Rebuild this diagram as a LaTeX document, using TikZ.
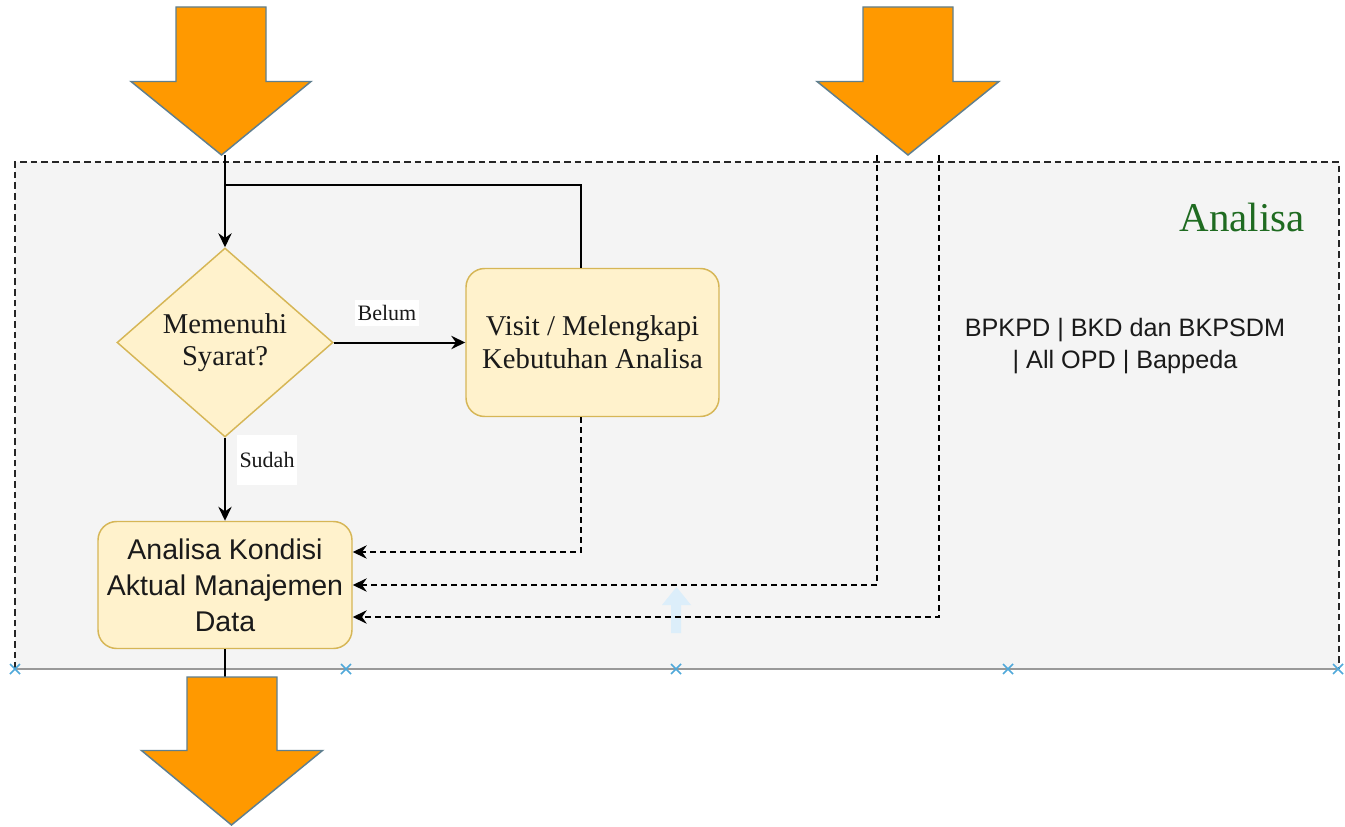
\documentclass[tikz,border=0pt]{standalone}
\usepackage{fontspec}
\setmainfont{Liberation Serif}
\newfontfamily\arialf{Liberation Sans}
\usetikzlibrary{arrows.meta,shapes.geometric,calc}
\definecolor{boxfill}{HTML}{FFF2CC}
\definecolor{boxdraw}{HTML}{D6B656}
\definecolor{orangeA}{HTML}{FF9900}
\definecolor{arrowedge}{HTML}{5F7F8F}
\definecolor{panel}{HTML}{F4F4F4}
\definecolor{titlegreen}{HTML}{1F6B21}
\definecolor{marker}{HTML}{4FA8DA}
\definecolor{ghost}{HTML}{DCEEFA}
\definecolor{ink}{HTML}{1A1A1A}
\begin{document}
\begin{tikzpicture}[x=0.75pt,y=-0.75pt,
  border/.style={draw=black!85,line width=1.2pt,dash pattern=on 5pt off 3pt},
  conn/.style={draw=black,line width=1.5pt},
  dconn/.style={draw=black,line width=1.35pt,dash pattern=on 4.5pt off 3pt},
  tip/.style={-{Stealth[length=10.5pt,width=10pt,inset=3.5pt]}},
  proc/.style={rectangle,rounded corners=14pt,draw=boxdraw,fill=boxfill,line width=1.1pt,align=center,inner sep=2pt,text=ink},
  diam/.style={diamond,draw=boxdraw,fill=boxfill,line width=1.1pt,inner sep=0pt,minimum width=162pt,minimum height=141.75pt},
  serifbig/.style={font=\fontsize{21.5}{24.5}\selectfont,text=ink},
  sansbig/.style={font=\arialf\fontsize{21.4}{27}\selectfont},
  lbl/.style={fill=white,text=ink,font=\fontsize{16.5}{19}\selectfont,inner sep=2pt},
  bigarrow/.style={fill=orangeA,draw=arrowedge,line width=1.1pt,line join=miter}
]
\useasboundingbox (0,0) rectangle (1345,827);
\fill[white] (0,0) rectangle (1345,827);

% container
\fill[panel] (15,162) rectangle (1339,669);
\draw[border] (15,669) -- (15,162) -- (1339,162) -- (1339,669);
\draw[gray!80,line width=1.4pt] (15,669) -- (1339,669);
\foreach \mx in {15,346,676,1008,1338}{
  \draw[marker,line width=1.1pt] (\mx-5,664) -- (\mx+5,674) (\mx-5,674) -- (\mx+5,664);
}

% faint hover arrow
\fill[ghost] (671,633) -- (671,605) -- (662,605) -- (676.5,587) -- (691,605) -- (681,605) -- (681,633) -- cycle;

% title and organisations
\node[font=\fontsize{30.7}{34}\selectfont,text=titlegreen] (ttl) at (1242,217) {Analisa};
\node[font=\arialf\fontsize{18.9}{23.5}\selectfont,text=ink,align=center] (orgs) at (1125,346) {BPKPD | BKD dan BKPSDM\\| All OPD | Bappeda};

% nodes
\node[diam] (dec) at (225,342.5) {};
\node[serifbig,align=center,inner sep=0pt] (dect) at (dec.center) {Memenuhi\\Syarat?};
\node[proc,serifbig,minimum width=189.75pt,minimum height=111pt] (visit) at (592.5,342.5) {Visit / Melengkapi\\Kebutuhan Analisa};
\node[proc,sansbig,minimum width=190.5pt,minimum height=95.25pt] (akad) at (225,585) {Analisa Kondisi\\Aktual Manajemen\\Data};

\coordinate (tipL) at (225,155);
\coordinate (jn) at (225,185);
\coordinate (botTop) at (225,677);
\coordinate (sA) at (877,155);
\coordinate (sB) at (939,155);

% connectors
\draw[conn,tip] (tipL) -- (dec.north);
\draw[conn] ([xshift=-8.5pt]visit.north) |- (jn);
\draw[conn,tip] (dec.east) -- (visit.west);
\draw[conn,tip] (dec.south) -- (akad.north);
\draw[conn] (akad.south) -- (botTop);
\draw[dconn,tip] ([xshift=-8.5pt]visit.south) |- ([yshift=24.75pt]akad.east);
\draw[dconn,tip] (sA) |- (akad.east);
\draw[dconn,tip] (sB) |- ([yshift=-24pt]akad.east);

\node[lbl,minimum height=20pt] (belum) at (387,313) {Belum};
\node[lbl,minimum height=38pt] (sudah) at (267,460) {Sudah};

% big orange arrows
\draw[bigarrow] (176,7) -- (266,7) -- (266,81.5) -- (311,81.5) -- (221.5,155) -- (131,81.5) -- (176,81.5) -- cycle;
\draw[bigarrow] (863,7) -- (953,7) -- (953,81.5) -- (999,81.5) -- (908,155) -- (817,81.5) -- (863,81.5) -- cycle;
\draw[bigarrow] (187,677) -- (277,677) -- (277,750.5) -- (322.5,750.5) -- (231.5,825) -- (141.5,750.5) -- (187,750.5) -- cycle;
\end{tikzpicture}
\end{document}
